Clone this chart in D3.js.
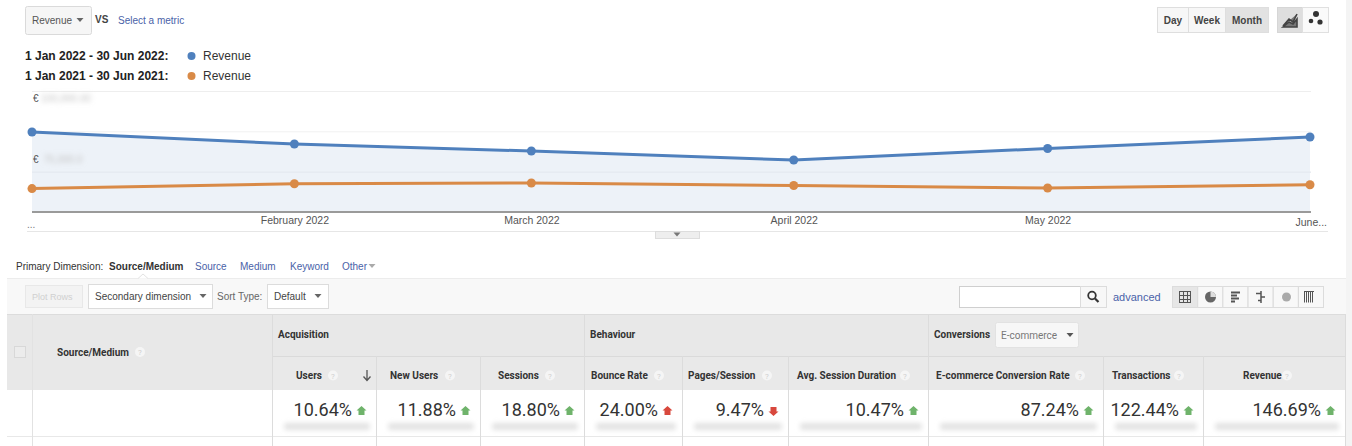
<!DOCTYPE html>
<html>
<head>
<meta charset="utf-8">
<script src="https://cdn.jsdelivr.net/npm/d3@7"></script>
<style>
  html, body { margin: 0; padding: 0; background: #fff; }
  svg { display: block; font-family: Arial, "Liberation Sans", sans-serif; }
  .tbl { font-family: Roboto, Arial, sans-serif; }
</style>
</head>
<body>
<svg id="chart" width="1352" height="446"></svg>
<script>
// ---- data ----
const months = ["2022-01-01", "2022-02-01", "2022-03-01", "2022-04-01", "2022-05-01", "2022-06-01"];
const revenue2022 = [99200, 84300, 75600, 64500, 78700, 93000];
const revenue2021 = [29000, 35000, 36000, 32800, 29800, 33800];
const periods = ["1 Jan 2022 - 30 Jun 2022:", "1 Jan 2021 - 30 Jun 2021:"];
const yGridTicks = [0, 50000, 100000, 150000];
const yLabelTicks = [150000, 75000];
const xTickLabels = ["February 2022", "March 2022", "April 2022", "May 2022"];

const metricNames = ["Users", "New Users", "Sessions", "Bounce Rate", "Pages/Session",
  "Avg. Session Duration", "E-commerce Conversion Rate", "Transactions", "Revenue"];
const metricChanges = [10.64, 11.88, 18.80, 24.00, 9.47, 10.47, 87.24, 122.44, 146.69];
const metricUp = [true, true, true, true, false, true, true, true, true];
const metricGood = [true, true, true, false, false, true, true, true, true];

const svg = d3.select("#chart");
const parse = d3.timeParse("%Y-%m-%d");
const dates = months.map(parse);

/** Colours */
const blue = "#4f80bd", orange = "#d98a47";

// blur filters for the hidden values
const defs = svg.append("defs");
defs.append("filter").attr("id", "blur").attr("x", "-20%").attr("y", "-80%").attr("width", "140%").attr("height", "260%")
  .append("feGaussianBlur").attr("stdDeviation", 2.4);
defs.append("filter").attr("id", "blur2").attr("x", "-20%").attr("y", "-100%").attr("width", "140%").attr("height", "300%")
  .append("feGaussianBlur").attr("stdDeviation", 2.5);

svg.append("rect").attr("width", 1352).attr("height", 446).attr("fill", "#fff");
svg.append("rect").attr("x", 1346).attr("width", 6).attr("height", 446).attr("fill", "#f4f4f4");

function caret(g, x, y, col) {
  g.append("path").attr("d", `M${x - 3.5},${y - 2}L${x + 3.5},${y - 2}L${x},${y + 2}Z`).attr("fill", col || "#666");
}

// ---- top controls ----
const ctrl = svg.append("g");
ctrl.append("rect").attr("x", 25.5).attr("y", 6.5).attr("width", 66).attr("height", 28).attr("rx", 2)
  .attr("fill", "#f6f6f6").attr("stroke", "#dadada");
ctrl.append("text").attr("x", 32).attr("y", 23.5).attr("font-size", 10).attr("fill", "#555").text("Revenue");
caret(ctrl, 80, 20);
ctrl.append("text").attr("x", 95).attr("y", 23).attr("font-size", 10).attr("font-weight", "bold").attr("fill", "#444").text("VS");
ctrl.append("text").attr("x", 118).attr("y", 23.5).attr("font-size", 10).attr("fill", "#4a62a8").text("Select a metric");

const periodBtns = [["Day", 1157, 31], ["Week", 1188, 37], ["Month", 1225, 43]];
periodBtns.forEach(([t, x, w], i) => {
  ctrl.append("rect").attr("x", x + 0.5).attr("y", 7.5).attr("width", w).attr("height", 25)
    .attr("fill", i === 2 ? "#e2e2e2" : "#f7f7f7").attr("stroke", "#dedede");
  ctrl.append("text").attr("x", x + w / 2 + 0.5).attr("y", 23.5).attr("text-anchor", "middle")
    .attr("font-size", 10).attr("font-weight", "bold").attr("fill", "#444").text(t);
});
ctrl.append("rect").attr("x", 1277.5).attr("y", 7.5).attr("width", 25).attr("height", 25).attr("fill", "#dedede").attr("stroke", "#d6d6d6");
ctrl.append("rect").attr("x", 1302.5).attr("y", 7.5).attr("width", 26).attr("height", 25).attr("fill", "#fafafa").attr("stroke", "#e0e0e0");
ctrl.append("path").attr("d", "M1283,26L1289,19L1293,22L1297,14M1283,27L1297,27M1283,27L1289,22L1293,24L1297,19L1297,27Z")
  .attr("stroke", "#444").attr("stroke-width", 1.6).attr("fill", "#777");
[[1316, 14, 3], [1311, 21, 2.3], [1320, 22, 2.6]].forEach(([cx, cy, r]) =>
  ctrl.append("circle").attr("cx", cx).attr("cy", cy).attr("r", r).attr("fill", "#333"));

// ---- legend ----
const legendColors = [blue, orange];
periods.forEach((p, i) => {
  const y = 60 + i * 20;
  svg.append("text").attr("x", 25).attr("y", y).attr("font-size", 12).attr("font-weight", "bold").attr("fill", "#222").text(p);
  svg.append("circle").attr("cx", 191.5).attr("cy", y - 4).attr("r", 4).attr("fill", legendColors[i]);
  svg.append("text").attr("x", 203).attr("y", y).attr("font-size", 12).attr("fill", "#333").text("Revenue");
});

// ---- line chart ----
const x = d3.scaleTime().domain([dates[0], dates[dates.length - 1]]).range([32, 1310]);
const y = d3.scaleLinear().domain([0, 150000]).range([212, 91]);

const plot = svg.append("g");
plot.selectAll(".grid").data(yGridTicks.slice(1)).join("line")
  .attr("x1", 32).attr("x2", 1311).attr("y1", d => y(d) + 0.5).attr("y2", d => y(d) + 0.5)
  .attr("stroke", d => d === 150000 ? "#eeeeee" : "#f1f1f1");

const area = d3.area().x((d, i) => x(dates[i])).y0(y(0)).y1(d => y(d));
plot.append("path").datum(revenue2022).attr("d", area).attr("fill", "#edf2f8");
plot.selectAll(".grid2").data([50000]).join("line")
  .attr("x1", 32).attr("x2", 1311).attr("y1", d => y(d) + 0.5).attr("y2", d => y(d) + 0.5).attr("stroke", "#e2e7ee");

// axis labels (values blurred in the original)
yLabelTicks.forEach((t, i) => {
  const ty = y(t) + 11;
  plot.append("text").attr("x", 38).attr("y", ty).attr("font-size", 10).attr("fill", "#c4c4c4")
    .attr("filter", "url(#blur)").text(i === 0 ? "\u00a0100,000.00" : "\u00a0\u00a075,000.0");
  plot.append("text").attr("x", 33).attr("y", ty).attr("font-size", 10).attr("fill", "#555").text("€");
});

// baseline
plot.append("line").attr("x1", 32).attr("x2", 1311).attr("y1", 212).attr("y2", 212).attr("stroke", "#9a9a9a").attr("stroke-width", 2);

const line = d3.line().x((d, i) => x(dates[i])).y(d => y(d));
[[revenue2021, orange], [revenue2022, blue]].forEach(([s, c]) => {
  plot.append("path").datum(s).attr("d", line).attr("fill", "none").attr("stroke", c).attr("stroke-width", 3);
  plot.selectAll(null).data(s).join("circle")
    .attr("cx", (d, i) => x(dates[i])).attr("cy", d => y(d)).attr("r", 4.5).attr("fill", c);
});

// x axis labels
const xAxis = d3.axisBottom(x).tickValues(dates.slice(1, 5)).tickSize(0)
  .tickFormat((d, i) => xTickLabels[i]);
const xg = plot.append("g").attr("transform", "translate(0,214)").call(xAxis);
xg.select(".domain").remove();
xg.selectAll("text").attr("font-size", 10.5).attr("fill", "#555").attr("font-family", "Arial, sans-serif");
plot.append("text").attr("x", 27).attr("y", 228).attr("font-size", 10).attr("fill", "#777").text("...");
plot.append("text").attr("x", 1327).attr("y", 226).attr("text-anchor", "end").attr("font-size", 10.5).attr("fill", "#555").text("June...");

svg.append("line").attr("x1", 27).attr("x2", 1328).attr("y1", 231.5).attr("y2", 231.5).attr("stroke", "#e6e6e6");
svg.append("rect").attr("x", 655.5).attr("y", 231.5).attr("width", 44).attr("height", 7).attr("fill", "#eeeeee").attr("stroke", "#dddddd");
caret(svg, 677, 234.5, "#777");

// ---- primary dimension ----
const pd = svg.append("g").attr("font-size", 10);
pd.append("text").attr("x", 16).attr("y", 270).attr("fill", "#333").text("Primary Dimension:");
pd.append("text").attr("x", 109).attr("y", 270).attr("fill", "#333").attr("font-weight", "bold").text("Source/Medium");
[["Source", 195], ["Medium", 240], ["Keyword", 290], ["Other", 342]].forEach(([t, px]) =>
  pd.append("text").attr("x", px).attr("y", 270).attr("fill", "#4a62a8").text(t));
caret(pd, 372, 266, "#aaa");

// ---- toolbar ----
svg.append("rect").attr("x", 7).attr("y", 278).attr("width", 1339).attr("height", 36).attr("fill", "#f8f8f8");
svg.append("line").attr("x1", 7).attr("x2", 1346).attr("y1", 278.5).attr("y2", 278.5).attr("stroke", "#ececec");
svg.append("path").attr("d", "M138,278.5L143,274L148,278.5").attr("fill", "#fff").attr("stroke", "#e3e3e3");
const tb = svg.append("g").attr("font-size", 10);
tb.append("rect").attr("x", 25.5).attr("y", 285.5).attr("width", 57).attr("height", 22).attr("fill", "#f3f3f3").attr("stroke", "#e8e8e8");
tb.append("text").attr("x", 32).attr("y", 299.5).attr("font-size", 9).attr("fill", "#d0d0d0").text("Plot Rows");
tb.append("rect").attr("x", 88.5).attr("y", 284.5).attr("width", 124).attr("height", 24).attr("fill", "#fff").attr("stroke", "#dcdcdc");
tb.append("text").attr("x", 95).attr("y", 300).attr("fill", "#444").text("Secondary dimension");
caret(tb, 203, 296);
tb.append("text").attr("x", 217).attr("y", 299.5).attr("fill", "#666").text("Sort Type:");
tb.append("rect").attr("x", 267.5).attr("y", 284.5).attr("width", 61).attr("height", 24).attr("fill", "#fff").attr("stroke", "#dcdcdc");
tb.append("text").attr("x", 274).attr("y", 300).attr("fill", "#444").text("Default");
caret(tb, 318, 296);

tb.append("rect").attr("x", 959.5).attr("y", 286.5).attr("width", 121).attr("height", 21).attr("fill", "#fff").attr("stroke", "#cfcfcf");
tb.append("rect").attr("x", 1080.5).attr("y", 286.5).attr("width", 26).attr("height", 21).attr("fill", "#f7f7f7").attr("stroke", "#dcdcdc");
tb.append("circle").attr("cx", 1092).attr("cy", 295.5).attr("r", 3.8).attr("fill", "none").attr("stroke", "#333").attr("stroke-width", 1.8);
tb.append("line").attr("x1", 1095).attr("y1", 298.5).attr("x2", 1098.5).attr("y2", 302).attr("stroke", "#333").attr("stroke-width", 2.2);
tb.append("text").attr("x", 1113).attr("y", 301).attr("font-size", 11).attr("fill", "#4a62a8").text("advanced");

d3.range(6).forEach(i => {
  const bx = 1172 + i * 25.2;
  tb.append("rect").attr("x", bx + 0.5).attr("y", 286.5).attr("width", 25).attr("height", 21)
    .attr("fill", i === 0 ? "#e6e6e6" : "#f8f8f8").attr("stroke", "#dcdcdc");
});
const ic = tb.append("g").attr("stroke", "#555").attr("fill", "none").attr("stroke-width", 1);
ic.append("rect").attr("x", 1179.5).attr("y", 291.5).attr("width", 11).attr("height", 11);
ic.append("path").attr("d", "M1183.5,291.5V302.5M1187.5,291.5V302.5M1179.5,295.5H1190.5M1179.5,299.5H1190.5");
tb.append("circle").attr("cx", 1210.5).attr("cy", 297).attr("r", 5.5).attr("fill", "#666");
tb.append("path").attr("d", "M1210.5,297V291.5A5.5,5.5 0 0 1 1216,297Z").attr("fill", "#ddd");
ic.append("path").attr("d", "M1231,292.5H1240M1231,295.5H1237M1231,298.5H1239M1231,301.5H1235").attr("stroke-width", 2);
ic.append("path").attr("d", "M1261,291V303M1256,293.5H1261M1261,297H1265M1258,300.5H1261").attr("stroke-width", 1.5);
tb.append("circle").attr("cx", 1286.5).attr("cy", 297).attr("r", 4.5).attr("fill", "#aaa");
ic.append("path").attr("d", "M1281,297H1292M1286.5,292.5V301.5").attr("stroke", "#fff");
ic.append("path").attr("d", "M1304.5,291.5V302.5M1306.5,291.5V302.5M1308.5,291.5V302.5M1310.5,291.5V302.5M1312.5,291.5V302.5M1304,291.5H1314");

// ---- table ----
const tbl = svg.append("g").attr("class", "tbl");
const colEdges = [272, 376, 480, 584, 682, 788, 928, 1103, 1203, 1345];
const groups = [["Acquisition", 272, 584], ["Behaviour", 584, 928], ["Conversions", 928, 1345]];

tbl.append("rect").attr("x", 7).attr("y", 314).attr("width", 1338).attr("height", 76).attr("fill", "#e8e8e8");
tbl.append("rect").attr("x", 272).attr("y", 356).attr("width", 1073).attr("height", 34).attr("fill", "#e9e9e9");
tbl.append("line").attr("x1", 7).attr("x2", 1345).attr("y1", 314.5).attr("y2", 314.5).attr("stroke", "#dcdcdc");
tbl.append("line").attr("x1", 272).attr("x2", 1345).attr("y1", 356.5).attr("y2", 356.5).attr("stroke", "#dadada");
tbl.append("line").attr("x1", 7).attr("x2", 1345).attr("y1", 436.5).attr("y2", 436.5).attr("stroke", "#e8e8e8");
tbl.append("line").attr("x1", 32.5).attr("x2", 32.5).attr("y1", 314).attr("y2", 446).attr("stroke", "#e2e2e2");
tbl.selectAll(".vcol").data(colEdges).join("line")
  .attr("x1", d => d + 0.5).attr("x2", d => d + 0.5)
  .attr("y1", d => groups.some(g => g[1] === d || g[2] === d) ? 314 : 356).attr("y2", 446)
  .attr("stroke", "#dcdcdc");
tbl.append("rect").attr("x", 14.5).attr("y", 346.5).attr("width", 11).attr("height", 11).attr("fill", "#ececec").attr("stroke", "#d8d8d8");

function help(g, cx, cy) {
  g.append("circle").attr("cx", cx).attr("cy", cy).attr("r", 5).attr("fill", "#f5f5f5");
  g.append("text").attr("x", cx).attr("y", cy + 3).attr("text-anchor", "middle").attr("font-size", 8).attr("fill", "#cfcfcf").text("?");
}

tbl.append("text").attr("x", 57).attr("y", 355.5).attr("font-size", 10).attr("font-weight", "bold").attr("fill", "#333").text("Source/Medium");
help(tbl, 140, 352);

groups.forEach(([t, x0]) =>
  tbl.append("text").attr("x", x0 + 6).attr("y", 338).attr("font-size", 10).attr("font-weight", "bold").attr("fill", "#333").text(t));
tbl.append("rect").attr("x", 995.5).attr("y", 322.5).attr("width", 83).attr("height", 25).attr("rx", 2).attr("fill", "#f7f7f7").attr("stroke", "#e2e2e2");
tbl.append("text").attr("x", 1001).attr("y", 338.5).attr("font-size", 10).attr("fill", "#777").text("E-commerce");
caret(tbl, 1070, 335, "#555");

// column headers
const labelX = [296, 390, 498, 591, 688, 797, 936, 1112, 1243];
const helpX = [333, 450, 550, 659, 767, 905, 1080, 1179, 1287];
metricNames.forEach((m, i) => {
  tbl.append("text").attr("x", labelX[i]).attr("y", 379).attr("font-size", 10).attr("font-weight", "bold").attr("fill", "#333").text(m);
  help(tbl, helpX[i], 375.5);
});
tbl.append("path").attr("d", "M367,370V380M363.5,376.5L367,380.5L370.5,376.5").attr("stroke", "#555").attr("stroke-width", 1.3).attr("fill", "none");

// data row
metricChanges.forEach((v, i) => {
  const x1 = colEdges[i + 1];
  const x0 = colEdges[i];
  tbl.append("text").attr("x", x1 - 24).attr("y", 416).attr("text-anchor", "end")
    .attr("font-size", 18).attr("fill", "#333").text(v.toFixed(2) + "%");
  const ax = x1 - 14.5, ay = 411;
  const col = metricGood[i] ? "#6fb36b" : "#d8483d";
  const d = metricUp[i]
    ? `M${ax},${ay - 5}L${ax + 5},${ay - 0.5}L${ax + 3},${ay - 0.5}L${ax + 3},${ay + 4}L${ax - 3},${ay + 4}L${ax - 3},${ay - 0.5}L${ax - 5},${ay - 0.5}Z`
    : `M${ax},${ay + 5}L${ax + 5},${ay + 0.5}L${ax + 3},${ay + 0.5}L${ax + 3},${ay - 4}L${ax - 3},${ay - 4}L${ax - 3},${ay + 0.5}L${ax - 5},${ay + 0.5}Z`;
  tbl.append("path").attr("d", d).attr("fill", col);
  tbl.append("rect").attr("x", x0 + 12).attr("y", 423).attr("width", x1 - x0 - 18).attr("height", 7).attr("rx", 3)
    .attr("fill", "#e2e2e2").attr("filter", "url(#blur2)");
});
</script>
</body>
</html>
